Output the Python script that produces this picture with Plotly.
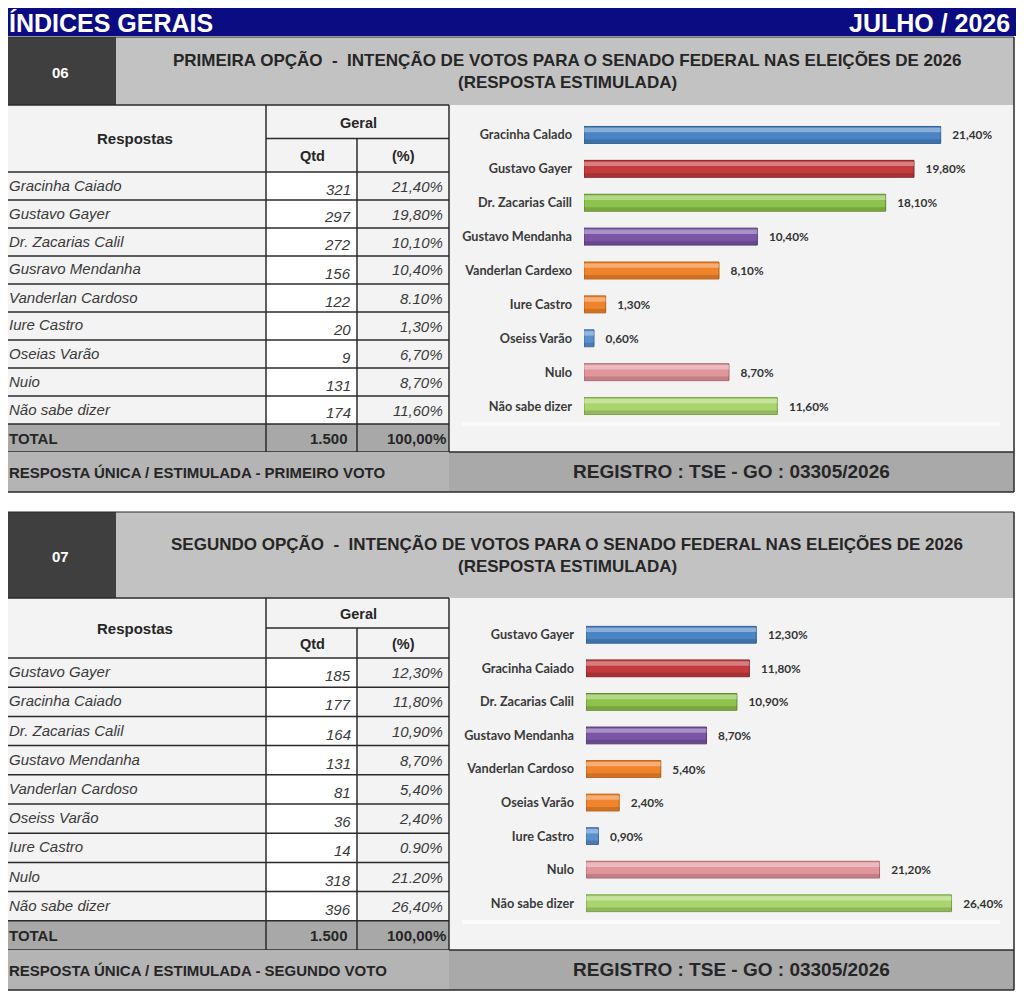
import plotly.graph_objects as go

W, H = 1024, 1004
OFF = 8                      # margem padrão do <body> na página
FW, FH = W - OFF, H - OFF

# ---- dados: quadro 06 (primeira opção) ----
t1_nomes = ["Gracinha Caiado", "Gustavo Gayer", "Dr. Zacarias Calil", "Gusravo Mendanha",
            "Vanderlan Cardoso", "Iure Castro", "Oseias Varão", "Nuio", "Não sabe dizer"]
t1_qtd = [321, 297, 272, 156, 122, 20, 9, 131, 174]
t1_pct = ["21,40%", "19,80%", "10,10%", "10,40%", "8.10%", "1,30%", "6,70%", "8,70%", "11,60%"]
t1_total = ["1.500", "100,00%"]

g1_nomes = ["Gracinha Calado", "Gustavo Gayer", "Dr. Zacarias Caill", "Gustavo Mendanha",
            "Vanderlan Cardexo", "Iure Castro", "Oseiss Varão", "Nulo", "Não sabe dizer"]
g1_valores = [21.4, 19.8, 18.1, 10.4, 8.1, 1.3, 0.6, 8.7, 11.6]

# ---- dados: quadro 07 (segunda opção) ----
t2_nomes = ["Gustavo Gayer", "Gracinha Caiado", "Dr. Zacarias Calil", "Gustavo Mendanha",
            "Vanderlan Cardoso", "Oseiss Varão", "Iure Castro", "Nulo", "Não sabe dizer"]
t2_qtd = [185, 177, 164, 131, 81, 36, 14, 318, 396]
t2_pct = ["12,30%", "11,80%", "10,90%", "8,70%", "5,40%", "2,40%", "0.90%", "21.20%", "26,40%"]
t2_total = ["1.500", "100,00%"]

g2_nomes = ["Gustavo Gayer", "Gracinha Caiado", "Dr. Zacarias Calil", "Gustavo Mendanha",
            "Vanderlan Cardoso", "Oseias Varão", "Iure Castro", "Nulo", "Não sabe dizer"]
g2_valores = [12.3, 11.8, 10.9, 8.7, 5.4, 2.4, 0.9, 21.2, 26.4]

CORES = ["#4a84c4", "#c23b3d", "#8dc24c", "#7b55a6", "#f0842c",
         "#f0842c", "#5a8fcc", "#e0969b", "#a9d46e"]
BORDAS = ["#2f5f96", "#8e2527", "#5f8a2c", "#553877", "#b95f15",
          "#b95f15", "#3b6ba3", "#b06a6f", "#7aa048"]

ARIAL = "Liberation Sans, Arial, sans-serif"
NARROW = "Liberation Sans Narrow, Liberation Sans, Arial, sans-serif"
LATO = "Lato, Carlito, sans-serif"

shapes = []
annots = []


def px(x):
    return (x - OFF) / FW


def py(y):
    return 1 - (y - OFF) / FH


def rect(x0, y0, x1, y1, fill, line=None, lw=0):
    shapes.append(dict(type="rect", xref="paper", yref="paper", layer="below",
                       x0=px(x0), x1=px(x1), y0=py(y1), y1=py(y0),
                       fillcolor=fill, line=dict(color=line or fill, width=lw)))


def hline(x0, x1, y, color="#2b2b2b", lw=1.5):
    shapes.append(dict(type="line", xref="paper", yref="paper", layer="below",
                       x0=px(x0), x1=px(x1), y0=py(y), y1=py(y),
                       line=dict(color=color, width=lw)))


def vline(x, y0, y1, color="#2b2b2b", lw=1.5):
    shapes.append(dict(type="line", xref="paper", yref="paper", layer="below",
                       x0=px(x), x1=px(x), y0=py(y0), y1=py(y1),
                       line=dict(color=color, width=lw)))


def txt(x, y, s, size=14, color="#262626", anchor="center", family=ARIAL):
    annots.append(dict(x=px(x), y=py(y), xref="paper", yref="paper", text=s,
                       showarrow=False, xanchor=anchor, yanchor="middle",
                       font=dict(family=family, size=size, color=color)))


# faixa superior
rect(3, 2, 1016, 36, "#0b0b82")
txt(7, 23, "<b>ÍNDICES GERAIS</b>", 25, "white", "left")
txt(1012, 23, "<b>JULHO / 2026</b>", 25, "white", "right")


def painel(top, numero, titulo, fonte_tit, tam_tit, fonte_tab, nomes, qtd, pct, total,
           rodape, hdr_h, head_h, row_h):
    # cabeçalho
    rect(5, top, 116, top + hdr_h, "#3f3f3f")
    rect(116, top, 1014, top + hdr_h, "#c2c2c2")
    txt(60, top + hdr_h / 2 + 1, "<b>%s</b>" % numero, 15, "white")
    txt(567, top + hdr_h / 2 - 11, "<b>%s</b>" % titulo, tam_tit, "#262626", family=fonte_tit)
    txt(567, top + hdr_h / 2 + 11, "<b>(RESPOSTA ESTIMULADA)</b>", tam_tit, "#262626",
        family=fonte_tit)

    t0 = top + hdr_h
    r0 = t0 + head_h
    n = len(nomes)
    tot_y = r0 + n * row_h
    fim = tot_y + row_h
    foot = fim + 40

    # área do gráfico
    rect(449, t0, 1014, fim, "#f3f3f3")
    rect(462, fim - 30, 1000, fim - 26, "#fbfbfb")

    # tabela
    rect(5, t0, 266, fim, "#f3f3f3")
    rect(266, t0, 357, r0, "#f3f3f3")
    rect(357, t0, 449, r0, "#f3f3f3")
    rect(266, r0, 357, tot_y, "#ffffff")
    rect(357, r0, 449, tot_y, "#f3f3f3")
    rect(5, tot_y, 449, fim, "#a8a8a8")

    txt(135, t0 + head_h / 2, "<b>Respostas</b>", 15, "#262626", family=fonte_tab)
    txt(358, t0 + head_h / 4 + 1, "<b>Geral</b>", 14.5, "#262626", family=fonte_tab)
    txt(312, t0 + head_h * 3 / 4 + 1, "<b>Qtd</b>", 14.5, "#262626", family=fonte_tab)
    txt(403, t0 + head_h * 3 / 4 + 1, "<b>(%)</b>", 14.5, "#262626", family=fonte_tab)

    for i in range(n):
        yc = r0 + row_h * (i + 0.5)
        txt(7, yc - 1, "<i>%s</i>" % nomes[i], 15, "#3a3a3a", "left")
        txt(353, yc + 3, "<i>%d</i>" % qtd[i], 15, "#3a3a3a", "right")
        txt(445, yc, "<i>%s</i>" % pct[i], 15, "#3a3a3a", "right")
    yc = tot_y + row_h / 2
    txt(7, yc, "<b>TOTAL</b>", 15, "#262626", "left")
    txt(350, yc, "<b>%s</b>" % total[0], 15, "#262626", "right")
    txt(448, yc, "<b>%s</b>" % total[1], 15, "#262626", "right")

    # linhas da tabela
    hline(5, 449, t0)
    hline(266, 449, t0 + head_h / 2)
    for i in range(n + 2):
        hline(5, 449, r0 + i * row_h)
    vline(266, t0, fim)
    vline(357, t0 + head_h / 2, fim)
    vline(449, t0, foot)
    vline(5, t0, foot)

    # rodapé
    rect(5, fim, 449, foot, "#b4b4b4")
    rect(449, fim, 1014, foot, "#a9a9a9")
    txt(7, fim + 20, "<b>%s</b>" % rodape, 15, "#262626", "left")
    txt(731, fim + 19, "<b>REGISTRO : TSE - GO : 03305/2026</b>", 19, "#262626")
    hline(5, 1014, foot)
    hline(449, 1014, fim)
    vline(1014, top, foot)
    hline(5, 1014, top, lw=1)


painel(37, "06", "PRIMEIRA OPÇÃO  -  INTENÇÃO DE VOTOS PARA O SENADO FEDERAL NAS ELEIÇÕES DE 2026",
       ARIAL, 17, ARIAL, t1_nomes, t1_qtd, t1_pct, t1_total,
       "RESPOSTA ÚNICA / ESTIMULADA - PRIMEIRO VOTO", 68, 67, 28)
painel(512, "07", "SEGUNDO OPÇÃO  -  INTENÇÃO DE VOTOS PARA O SENADO FEDERAL NAS ELEIÇÕES DE 2026",
       NARROW, 17, NARROW, t2_nomes, t2_qtd, t2_pct, t2_total,
       "RESPOSTA ÚNICA / ESTIMULADA - SEGUNDO VOTO", 86, 60, 29.2)

fig = go.Figure()


def barras(nomes, valores, xa, ya):
    pos = list(range(len(nomes)))
    fig.add_trace(go.Bar(
        x=valores, y=pos, orientation="h", width=0.5,
        marker=dict(color=CORES, line=dict(color=BORDAS, width=1)),
        text=["<b>\u00a0\u00a0\u00a0%s%%</b>" % ("%.2f" % v).replace(".", ",") for v in valores],
        textposition="outside", cliponaxis=False,
        textfont=dict(family=LATO, size=11.8, color="#333333"),
        xaxis=xa, yaxis=ya, showlegend=False, hoverinfo="skip"))
    # brilho superior e sombra inferior (efeito 3D)
    fig.add_trace(go.Bar(
        x=valores, y=pos, orientation="h", width=0.13, offset=-0.21,
        marker=dict(color="rgba(255,255,255,0.35)", line=dict(width=0)),
        xaxis=xa, yaxis=ya, showlegend=False, hoverinfo="skip"))
    fig.add_trace(go.Bar(
        x=valores, y=pos, orientation="h", width=0.1, offset=0.13,
        marker=dict(color="rgba(0,0,0,0.14)", line=dict(width=0)),
        xaxis=xa, yaxis=ya, showlegend=False, hoverinfo="skip"))


barras(g1_nomes, g1_valores, "x", "y")
barras(g2_nomes, g2_valores, "x2", "y2")

eixo_x = dict(showgrid=False, zeroline=False, showticklabels=False, showline=False, fixedrange=True)


def eixo_y(nomes, dom):
    return dict(domain=dom, range=[8.5, -0.5], tickvals=list(range(len(nomes))),
                ticktext=["<b>%s</b>" % s for s in nomes], showgrid=False, zeroline=False,
                showline=False, ticks="", ticklabelstandoff=11,
                tickfont=dict(family=LATO, size=12.7, color="#3a3a3a"))


fig.update_layout(
    width=FW, height=FH,
    margin=dict(l=0, r=0, t=0, b=0),
    paper_bgcolor="white",
    plot_bgcolor="rgba(0,0,0,0)",
    barmode="overlay",
    xaxis=dict(domain=[px(584), px(1000)], range=[0, 24.96], anchor="y", **eixo_x),
    yaxis=dict(anchor="x", **eixo_y(g1_nomes, [py(423), py(118)])),
    xaxis2=dict(domain=[px(586), px(1000)], range=[0, 29.9], anchor="y2", **eixo_x),
    yaxis2=dict(anchor="x2", **eixo_y(g2_nomes, [py(920), py(618)])),
    shapes=shapes,
    annotations=annots,
)

fig.write_html("out.html")
